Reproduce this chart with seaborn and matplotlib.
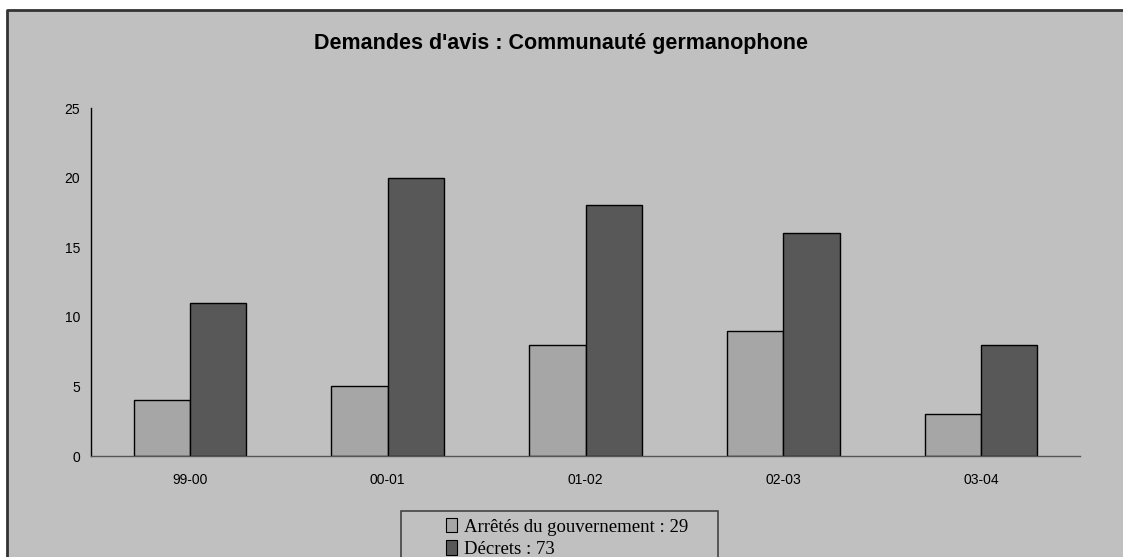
import pandas as pd
import seaborn as sns
import matplotlib.pyplot as plt
from matplotlib.patches import Rectangle, Patch
from matplotlib.lines import Line2D

# Données
periodes = ['99-00', '00-01', '01-02', '02-03', '03-04']
arretes = [4, 5, 8, 9, 3]
decrets = [11, 20, 18, 16, 8]
series = ['Arrêtés du gouvernement : 29', 'Décrets : 73']
couleurs = ['#a6a6a6', '#585858']

df = pd.DataFrame({
    'periode': periodes * 2,
    'valeur': arretes + decrets,
    'serie': [series[0]] * len(periodes) + [series[1]] * len(periodes),
})

sns.set_style('white')
plt.rcParams['font.family'] = ['Liberation Sans', 'DejaVu Sans']
plt.rcParams['text.color'] = 'black'
plt.rcParams['xtick.labelcolor'] = 'black'
plt.rcParams['ytick.labelcolor'] = 'black'

fig = plt.figure(figsize=(11.23, 5.57), dpi=100)
fig.patch.set_facecolor('white')

# fond gris du graphique, bordure visible en haut et à gauche
x0, y0 = 7 / 1123, 1 - 10 / 557
fig.patches.append(Rectangle((x0, 0), 1 - x0, y0, transform=fig.transFigure,
                             facecolor='#c0c0c0', edgecolor='none', zorder=-10))
fig.lines.append(Line2D([x0, x0, 1], [0, y0, y0], transform=fig.transFigure,
                        color='#333333', linewidth=2))

ax = fig.add_axes([91 / 1123, 1 - 456 / 557, (1080 - 91) / 1123, (456 - 108) / 557])
ax.patch.set_alpha(0)

sns.barplot(data=df, x='periode', y='valeur', hue='serie', palette=couleurs,
            width=0.57, edgecolor='black', linewidth=1, ax=ax, legend=False,
            saturation=1)

ax.set_xlim(-0.5, len(periodes) - 0.5)
ax.set_ylim(0, 25)
ax.set_yticks([0, 5, 10, 15, 20, 25])
ax.set_xticks([i - 0.5 for i in range(len(periodes) + 1)])
ax.set_xticklabels([''] * (len(periodes) + 1))
ax.set_xticks(range(len(periodes)), minor=True)
ax.set_xticklabels(periodes, minor=True)
ax.tick_params(axis='x', which='major', direction='out', length=5, width=1, color='#555555')
ax.tick_params(axis='x', which='minor', length=0, pad=12, labelsize=10)
ax.tick_params(axis='y', direction='out', length=5, width=1, color='black', labelsize=10, pad=3)
ax.set_xlabel('')
ax.set_ylabel('')

for s in ['top', 'right']:
    ax.spines[s].set_visible(False)
ax.spines['left'].set_color('black')
ax.spines['left'].set_linewidth(1)
ax.spines['bottom'].set_color('#555555')
ax.spines['bottom'].set_linewidth(1)

fig.text(0.5, 1 - 43 / 557, "Demandes d'avis : Communauté germanophone",
         ha='center', va='center', fontsize=15.5, fontweight='bold', color='black')

# légende en bas
cadre = Rectangle((401 / 1123, -0.05), (718 - 401) / 1123, 0.05 + (557 - 511) / 557,
                  transform=fig.transFigure, facecolor='#c0c0c0',
                  edgecolor='#444444', linewidth=1.2)
fig.patches.append(cadre)
poignees = [Patch(facecolor=c, edgecolor='black', linewidth=0.8) for c in couleurs]
leg = fig.legend(poignees, series, loc='upper left',
                 bbox_to_anchor=(446 / 1123, 1 - 518 / 557), frameon=False,
                 prop={'family': 'Liberation Serif', 'size': 13.5},
                 handlelength=0.6, handleheight=0.8, handletextpad=0.35,
                 labelspacing=0.25, borderpad=0, borderaxespad=0)

fig.savefig('out.png', dpi=100, facecolor='white')
